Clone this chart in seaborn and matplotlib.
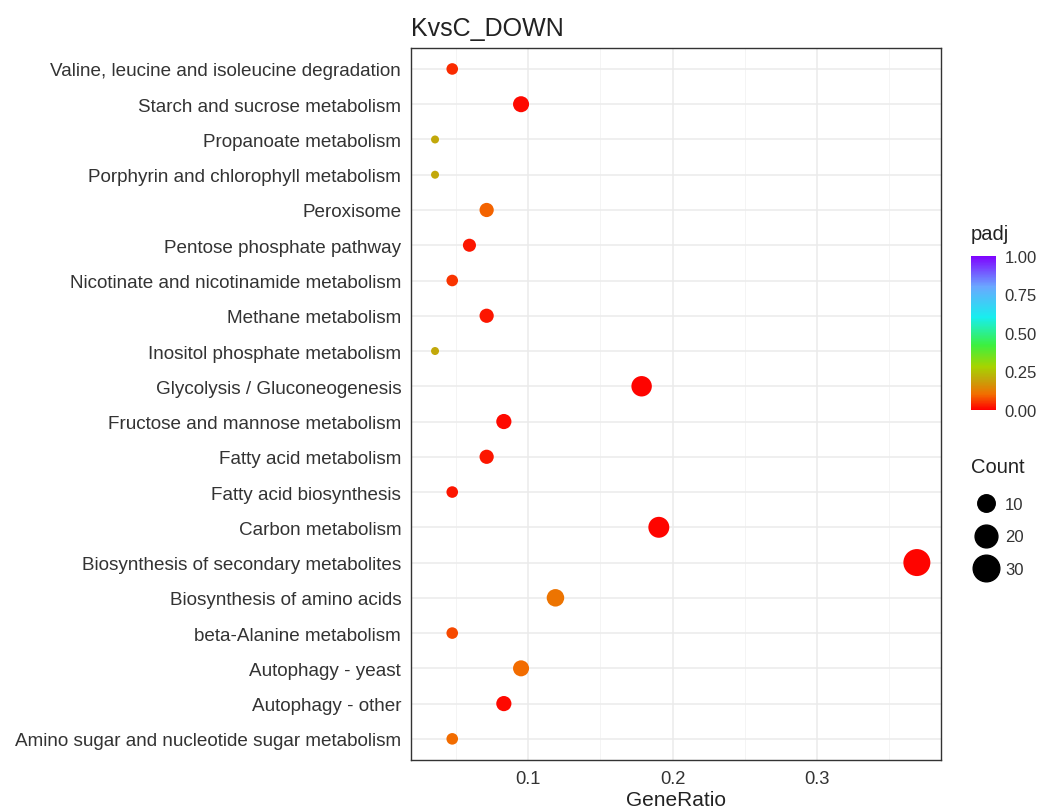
import numpy as np
import pandas as pd
import matplotlib
matplotlib.use("Agg")
import matplotlib.pyplot as plt
from matplotlib.colors import LinearSegmentedColormap, Normalize
from matplotlib.cm import ScalarMappable
from matplotlib.lines import Line2D
from matplotlib.ticker import MultipleLocator
import seaborn as sns

# KEGG enrichment of down-regulated genes, K vs C (bottom row first)
pathways = [
    "Amino sugar and nucleotide sugar metabolism",
    "Autophagy - other",
    "Autophagy - yeast",
    "beta-Alanine metabolism",
    "Biosynthesis of amino acids",
    "Biosynthesis of secondary metabolites",
    "Carbon metabolism",
    "Fatty acid biosynthesis",
    "Fatty acid metabolism",
    "Fructose and mannose metabolism",
    "Glycolysis / Gluconeogenesis",
    "Inositol phosphate metabolism",
    "Methane metabolism",
    "Nicotinate and nicotinamide metabolism",
    "Pentose phosphate pathway",
    "Peroxisome",
    "Porphyrin and chlorophyll metabolism",
    "Propanoate metabolism",
    "Starch and sucrose metabolism",
    "Valine, leucine and isoleucine degradation",
]
gene_ratio = [0.0476, 0.0833, 0.0952, 0.0476, 0.1190, 0.3690, 0.1905, 0.0476,
              0.0714, 0.0833, 0.1786, 0.0357, 0.0714, 0.0476, 0.0595, 0.0714,
              0.0357, 0.0357, 0.0952, 0.0476]
counts = [4, 7, 8, 4, 10, 31, 16, 4, 6, 7, 15, 3, 6, 4, 5, 6, 3, 3, 8, 4]
padj = [0.10, 0.01, 0.10, 0.07, 0.11, 0.005, 0.005, 0.02, 0.02, 0.01,
        0.005, 0.20, 0.02, 0.05, 0.02, 0.09, 0.20, 0.20, 0.01, 0.04]
count_breaks = [10, 20, 30]
padj_breaks = [0.0, 0.25, 0.5, 0.75, 1.0]
x_ticks = [0.1, 0.2, 0.3]

df = pd.DataFrame({"Pathway": pathways, "GeneRatio": gene_ratio,
                   "Count": counts, "padj": padj})

DPI = 100
fig = plt.figure(figsize=(10.51, 8.12), dpi=DPI)
sns.set_style("white")
plt.rcParams["font.family"] = ["Liberation Sans", "DejaVu Sans"]

# rainbow-like gradient, red (significant) -> violet
cmap = LinearSegmentedColormap.from_list("padj_rainbow", [
    (0.00, "#FF0000"), (0.10, "#F26E00"), (0.20, "#C2A80A"),
    (0.28, "#A6D400"), (0.42, "#3CF040"), (0.60, "#18EEEE"),
    (0.80, "#6AA8FF"), (1.00, "#7F00FF")])

cmin, cmax = 3, 31


def point_area(c):
    # diameter grows with sqrt of the rescaled count (area scale)
    d_px = 8 + 19 * np.sqrt(max(c - cmin, 0) / (cmax - cmin))
    return (d_px * 72 / DPI) ** 2


size_map = {c: point_area(c) for c in sorted(set(counts))}

ax = fig.add_axes([0.391, 0.0628, 0.5043, 0.8771])
ax.set_facecolor("white")
sns.scatterplot(data=df, x="GeneRatio", y="Pathway", hue="padj", size="Count",
                palette=cmap, hue_norm=(0, 1), sizes=size_map, legend=False,
                linewidth=0, alpha=1, ax=ax, zorder=3)

# axis ranges with ggplot-style expansion
xr = max(gene_ratio) - min(gene_ratio)
ax.set_xlim(min(gene_ratio) - 0.05 * xr, max(gene_ratio) + 0.05 * xr)
ax.set_ylim(-0.6, len(pathways) - 0.4)
ax.set_xticks(x_ticks)
ax.set_xticklabels([f"{t:g}" for t in x_ticks])
ax.xaxis.set_minor_locator(MultipleLocator(0.05))

ax.grid(True, which="major", color="#EBEBEB", linewidth=1.1, zorder=0)
ax.grid(True, which="minor", axis="x", color="#F2F2F2", linewidth=0.6, zorder=0)
ax.set_axisbelow(True)
for sp in ax.spines.values():
    sp.set_visible(True)
    sp.set_color("#333333")
    sp.set_linewidth(1.0)

ax.tick_params(axis="both", which="major", length=4, width=0.8, color="#333333",
               labelcolor="#333333", pad=3)
ax.tick_params(axis="y", labelsize=13.6)
ax.tick_params(axis="x", labelsize=13.2)
ax.tick_params(axis="x", which="minor", length=0)
ax.set_ylabel("")
ax.set_xlabel("GeneRatio", fontsize=15, color="#222222", labelpad=2)
ax.set_title("KvsC_DOWN", loc="left", fontsize=18, color="#222222", pad=9)

# colour bar for padj
cax = fig.add_axes([0.924, 0.494, 0.0238, 0.19])
sm = ScalarMappable(norm=Normalize(0, 1), cmap=cmap)
cb = fig.colorbar(sm, cax=cax, ticks=padj_breaks)
cb.outline.set_visible(False)
cb.ax.set_yticklabels([f"{b:.2f}" for b in padj_breaks])
cb.ax.tick_params(length=4, color="white", width=0.8, labelsize=12,
                  labelcolor="#333333", direction="in", pad=6)
fig.text(0.924, 0.711, "padj", fontsize=14.5, color="#222222", va="center")

# size legend for Count
fig.text(0.924, 0.424, "Count", fontsize=14.5, color="#222222", va="center")
handles = [Line2D([], [], linestyle="", marker="o", color="black",
                  markersize=np.sqrt(point_area(c))) for c in count_breaks]
fig.legend(handles, [str(c) for c in count_breaks], loc="upper left",
           bbox_to_anchor=(0.918, 0.397), frameon=False, fontsize=12,
           labelcolor="#333333", handletextpad=0.3, labelspacing=1.05,
           borderpad=0, handlelength=1.6)

fig.savefig("out.png", dpi=DPI)
